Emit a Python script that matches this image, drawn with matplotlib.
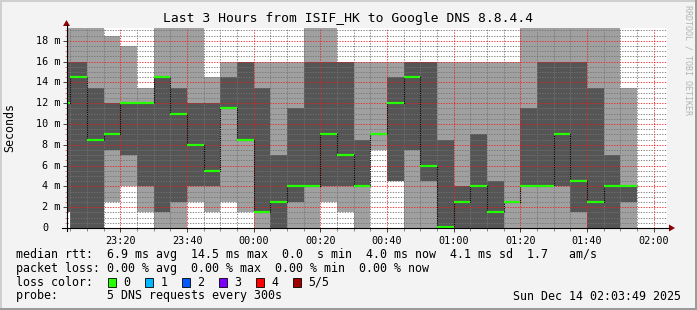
import numpy as np
import matplotlib.pyplot as plt
import matplotlib.transforms as mtransforms
from matplotlib.patches import Rectangle, Polygon
from matplotlib.lines import Line2D

W, H = 697, 310
MONO = 'DejaVu Sans Mono'

# interval end times in minutes after 23:00 (each column covers the 5 min before)
t_end = [5, 10, 15, 20, 25, 30, 35, 40, 45, 50, 55, 60, 65, 70, 75, 80, 85, 90,
         95, 100, 105, 110, 115, 120, 125, 130, 135, 140, 145, 150, 155, 160,
         165, 170, 175]

# sorted ping times (ms), p3 = median
p1 = [1.5, 0, 0, 2.5, 4, 1.5, 0, 0, 2.5, 1.5, 2.5, 1.5, 0, 0, 0, 0, 2.5, 1.5,
      0, 7.5, 4.5, 0, 0, 0, 0, 0, 0, 0, 0, 0, 0, 0, 0, 0, 0]
p2 = [1.5, 0, 0, 7.5, 7, 4, 1.5, 2.5, 4, 4, 11.5, 8.5, 1.5, 0, 2.5, 4, 4, 4,
      4, 9, 4.5, 7.5, 4.5, 0, 0, 0, 0, 2.5, 4, 4, 4, 1.5, 0, 0, 2.5]
p3 = [12, 14.5, 8.5, 9, 12, 12, 14.5, 11, 8, 5.5, 11.5, 8.5, 1.5, 2.5, 4, 4, 9, 7,
      4, 9, 12, 14.5, 6, 0.1, 2.5, 4, 1.5, 2.5, 4, 4, 9, 4.5, 2.5, 4, 4]
p4 = [16, 16, 13.5, 12, 12, 12, 14.5, 13.5, 12, 12, 14.5, 16, 13.5, 7, 11.5, 16, 16, 16,
      8.5, 9, 14.5, 16, 16, 8.5, 4, 9, 4.5, 2.5, 11.5, 16, 16, 16, 13.5, 7, 4]
p5 = [20, 20, 20, 18.5, 17.5, 13.5, 20, 20, 20, 14.5, 16, 16, 16, 16, 16, 20, 20, 16,
      16, 16, 16, 16, 16, 16, 16, 16, 16, 16, 20, 20, 20, 20, 20, 20, 13.5]

xtick_pos = [20, 40, 60, 80, 100, 120, 140, 160, 180]
xtick_lab = ['23:20', '23:40', '00:00', '00:20', '00:40', '01:00', '01:20', '01:40', '02:00']
ytick_pos = [0, 2, 4, 6, 8, 10, 12, 14, 16, 18]

loss_labels = ['0', '1', '2', '3', '4', '5/5']
loss_colors = ['#26ff00', '#00b8ff', '#0059ff', '#7e00ff', '#ff0000', '#a10000']

t0 = 3 + 49 / 60.0  # 23:03:49

fig = plt.figure(figsize=(W / 100, H / 100), dpi=100, facecolor='#f3f3f3')
pix = mtransforms.Affine2D().scale(1.0 / W, -1.0 / H).translate(0, 1) + fig.transFigure

ax = fig.add_axes([66.5 / W, 1 - 228 / H, 600 / W, 200 / H])
ax.set_facecolor('white')
ax.set_xlim(t0, t0 + 180)
ax.set_ylim(0, 200 / 10.4)

left = [t - 5 for t in t_end]
lo1, hi1 = np.array(p1), np.array(p5)
lo2, hi2 = np.array(p2), np.array(p4)
ax.bar(left, hi1 - lo1, bottom=lo1, width=5, align='edge', color='#a0a0a0',
       linewidth=0, antialiased=False, zorder=1)
ax.bar(left, hi2 - lo2, bottom=lo2, width=5, align='edge', color='#555555',
       linewidth=0, antialiased=False, zorder=1.5)

# median: black dotted steps + green segments
edges = [left[0]] + t_end
ax.stairs(p3, edges, baseline=None, color='black', lw=0.8, ls=(0, (1, 1)), zorder=4)
ax.hlines(p3, left, t_end, colors=loss_colors[0], lw=1.6, zorder=5)

# grid
ax.set_xticks(xtick_pos)
ax.set_xticklabels(xtick_lab, family=MONO, fontsize=7.3)
ax.set_xticks(np.arange(5, 185, 5), minor=True)
ax.set_yticks(ytick_pos)
ax.set_yticklabels([])
ax.set_yticks(np.arange(0, 19.5, 0.5), minor=True)
ax.grid(which='minor', color=(0.45, 0.45, 0.45, 0.22), lw=0.6, ls=(0, (1.6, 1.6)))
ax.grid(which='major', color=(0.95, 0.1, 0.1, 0.3), lw=0.6, ls=(0, (1.6, 1.6)))
ax.set_axisbelow(False)
ax.tick_params(axis='x', which='major', length=3, width=0.7, color='#444444', pad=3)
ax.tick_params(axis='x', which='minor', length=2, width=0.7, color='#888888')
ax.tick_params(axis='y', which='major', length=3, width=0.7, color='#444444')
ax.tick_params(axis='y', which='minor', length=1.5, width=0.7, color='#e08080')
for s in ax.spines.values():
    s.set_visible(False)

# y labels
for v in ytick_pos:
    y = 228 - v * 10.4
    if v == 0:
        fig.text(48.5, y, '0', transform=pix, ha='right', va='center', family=MONO, fontsize=7.3)
    else:
        fig.text(60.5, y, '%d m' % v, transform=pix, ha='right', va='center', family=MONO, fontsize=7.3)

# axis lines and arrows
fig.add_artist(Line2D([62, 669], [228, 228], transform=pix, color='black', lw=0.8))
fig.add_artist(Line2D([66.5, 66.5], [231, 25], transform=pix, color='black', lw=0.8))
fig.add_artist(Polygon([[669, 224.5], [669, 231.5], [675, 228]], closed=True, transform=pix,
                       facecolor='#900000', edgecolor='none'))
fig.add_artist(Polygon([[63, 26], [70, 26], [66.5, 20]], closed=True, transform=pix,
                       facecolor='#900000', edgecolor='none'))

# title and labels
fig.text(348, 18.5, 'Last 3 Hours from ISIF_HK to Google DNS 8.8.4.4', transform=pix,
         ha='center', va='center', family=MONO, fontsize=9.4)
fig.text(10, 127, 'Seconds', transform=pix, rotation=90, ha='center', va='center',
         family=MONO, fontsize=8.4)
fig.text(688, 60, 'RRDTOOL / TOBI OETIKER', transform=pix, rotation=270, ha='center',
         va='center', family=MONO, fontsize=6, color='#b4b4b4')

# legend
fig.text(16, 254.7, 'median rtt:  6.9 ms avg  14.5 ms max  0.0  s min  4.0 ms now  4.1 ms sd  1.7   am/s',
         transform=pix, va='center', family=MONO, fontsize=8.4)
fig.text(16, 268.5, 'packet loss: 0.00 % avg  0.00 % max  0.00 % min  0.00 % now',
         transform=pix, va='center', family=MONO, fontsize=8.4)
fig.text(16, 282.3, 'loss color:', transform=pix, va='center', family=MONO, fontsize=8.4)
for i, (lab, col) in enumerate(zip(loss_labels, loss_colors)):
    bx = 108 + 37 * i
    fig.add_artist(Rectangle((bx, 286.5), 8, -8.5, transform=pix, facecolor=col,
                             edgecolor='black', lw=0.6))
    fig.text(bx + 15.5, 282.3, lab, transform=pix, va='center', family=MONO, fontsize=8.4)
fig.text(16, 296, 'probe:       5 DNS requests every 300s', transform=pix, va='center',
         family=MONO, fontsize=8.4)
fig.text(681, 296, 'Sun Dec 14 02:03:49 2025', transform=pix, ha='right', va='center',
         family=MONO, fontsize=8.4)

# frame shading
fig.add_artist(Rectangle((0, 0), W, 2, transform=pix, facecolor='#cfcfcf', edgecolor='none'))
fig.add_artist(Rectangle((0, 0), 2, H, transform=pix, facecolor='#cfcfcf', edgecolor='none'))
fig.add_artist(Rectangle((W - 2, 0), 2, H, transform=pix, facecolor='#9b9b9b', edgecolor='none'))
fig.add_artist(Rectangle((0, H - 2), W, 2, transform=pix, facecolor='#9b9b9b', edgecolor='none'))

fig.savefig('out.png', dpi=100, facecolor=fig.get_facecolor())
